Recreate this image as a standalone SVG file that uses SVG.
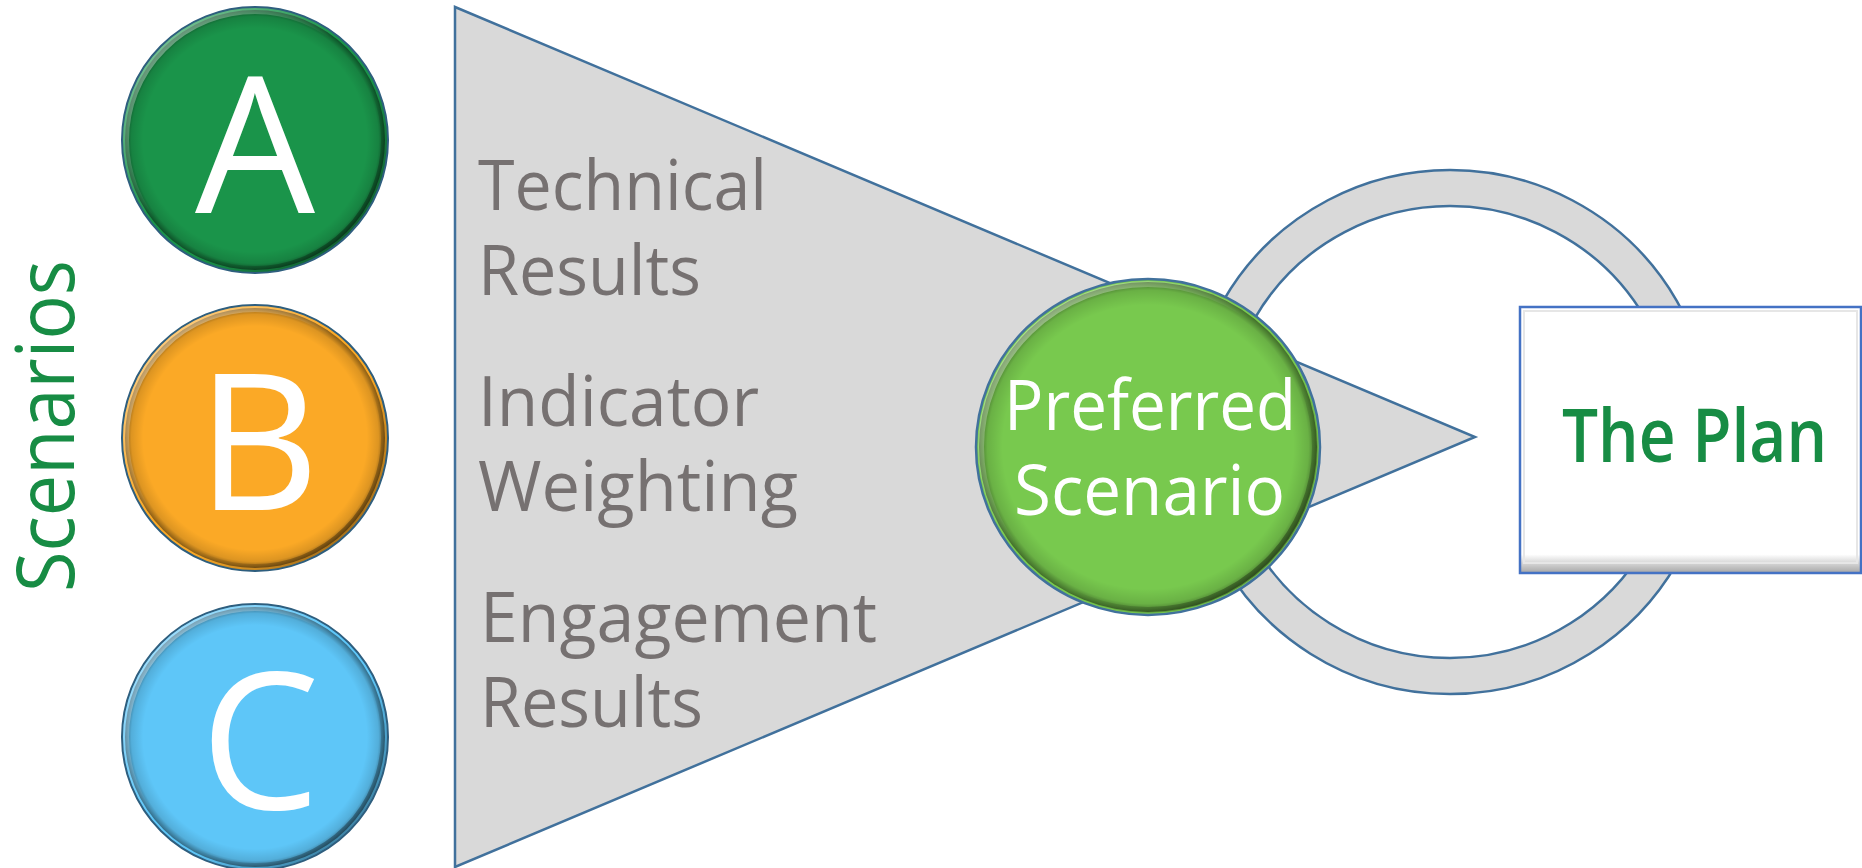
<svg xmlns="http://www.w3.org/2000/svg" width="1862" height="868" viewBox="0 0 1862 868">
<defs>
<style>
.shape{stroke:#41719C;stroke-width:2.5}
.gray{fill:#D9D9D9}
.lbl{font-family:"Open Sans","Liberation Sans",sans-serif;fill:#767171;font-size:70px}
.big{font-family:"Open Sans","Liberation Sans",sans-serif;fill:#FFFFFF;font-size:190px;text-anchor:middle}
.wh{font-family:"Open Sans","Liberation Sans",sans-serif;fill:#FFFFFF;font-size:70px}
.grn{font-family:"Open Sans","Liberation Sans",sans-serif;fill:#178C44}
</style>
<radialGradient id="rim" cx="50%" cy="50%" r="50%">
<stop offset="0.86" stop-color="#000" stop-opacity="0"/>
<stop offset="0.95" stop-color="#000" stop-opacity="0.12"/>
<stop offset="1" stop-color="#000" stop-opacity="0.45"/>
</radialGradient>
<linearGradient id="hl" x1="0" y1="0" x2="1" y2="1">
<stop offset="0" stop-color="#fff" stop-opacity="0.55"/>
<stop offset="0.45" stop-color="#fff" stop-opacity="0"/>
<stop offset="0.6" stop-color="#000" stop-opacity="0"/>
<stop offset="1" stop-color="#000" stop-opacity="0.5"/>
</linearGradient>
<linearGradient id="bev" x1="0" y1="0" x2="0" y2="1">
<stop offset="0.93" stop-color="#fff"/>
<stop offset="1" stop-color="#A6A6A6"/>
</linearGradient>
</defs>
<rect width="1862" height="868" fill="#FFFFFF"/>

<g id="funnel">
<polygon class="shape gray" points="455,7 1475,437 455,867"/>
</g>

<g id="ring">
<path class="shape gray" fill-rule="evenodd" d="M1450,170 a262,262 0 1,0 0.01,0 Z M1450,206 a226,226 0 1,0 0.01,0 Z"/>
</g>

<g id="plan">
<rect x="1520" y="307" width="341" height="266" fill="url(#bev)" stroke="#4472C4" stroke-width="2.5"/>
<rect x="1524" y="311" width="333" height="252" fill="none" stroke="#E6E6E6" stroke-width="2"/>
<text class="grn" x="1562" y="462" font-size="75" font-weight="600" textLength="265" lengthAdjust="spacingAndGlyphs">The Plan</text>
</g>

<g id="scenarios-label">
<text class="grn" transform="translate(74,426) rotate(-90)" font-size="80" text-anchor="middle" textLength="332" lengthAdjust="spacingAndGlyphs">Scenarios</text>
</g>

<g id="scenario-a">
<circle cx="255" cy="140" r="133" fill="#1A944A" stroke="#2E5E7E" stroke-width="2"/>
<circle cx="255" cy="140" r="130" fill="url(#rim)"/>
<circle cx="255" cy="140" r="129" fill="none" stroke="url(#hl)" stroke-width="6"/>
<text class="big" x="255" y="213">A</text>
</g>

<g id="scenario-b">
<circle cx="255" cy="438" r="133" fill="#FBA926" stroke="#2E5E7E" stroke-width="2"/>
<circle cx="255" cy="438" r="130" fill="url(#rim)"/>
<circle cx="255" cy="438" r="129" fill="none" stroke="url(#hl)" stroke-width="6"/>
<text class="big" x="258" y="510">B</text>
</g>

<g id="scenario-c">
<circle cx="255" cy="737" r="133" fill="#5EC6F8" stroke="#2E5E7E" stroke-width="2"/>
<circle cx="255" cy="737" r="130" fill="url(#rim)"/>
<circle cx="255" cy="737" r="129" fill="none" stroke="url(#hl)" stroke-width="6"/>
<text class="big" x="260" y="809">C</text>
</g>

<g id="criteria">
<text class="lbl" x="478" y="210" textLength="289" lengthAdjust="spacingAndGlyphs">Technical</text>
<text class="lbl" x="478" y="295" textLength="223" lengthAdjust="spacingAndGlyphs">Results</text>
<text class="lbl" x="478" y="426" textLength="281" lengthAdjust="spacingAndGlyphs">Indicator</text>
<text class="lbl" x="478" y="511" textLength="320" lengthAdjust="spacingAndGlyphs">Weighting</text>
<text class="lbl" x="480" y="642" textLength="397" lengthAdjust="spacingAndGlyphs">Engagement</text>
<text class="lbl" x="480" y="727" textLength="223" lengthAdjust="spacingAndGlyphs">Results</text>
</g>

<g id="preferred">
<ellipse cx="1148" cy="447" rx="172" ry="168" fill="#78C94E" stroke="#41719C" stroke-width="2.5"/>
<ellipse cx="1148" cy="447" rx="169" ry="165" fill="url(#rim)"/>
<ellipse cx="1148" cy="447" rx="167" ry="163" fill="none" stroke="url(#hl)" stroke-width="6"/>
<text class="wh" x="1004" y="430" textLength="292" lengthAdjust="spacingAndGlyphs">Preferred</text>
<text class="wh" x="1014" y="515" textLength="271" lengthAdjust="spacingAndGlyphs">Scenario</text>
</g>

<g id="connectors"></g>
</svg>
